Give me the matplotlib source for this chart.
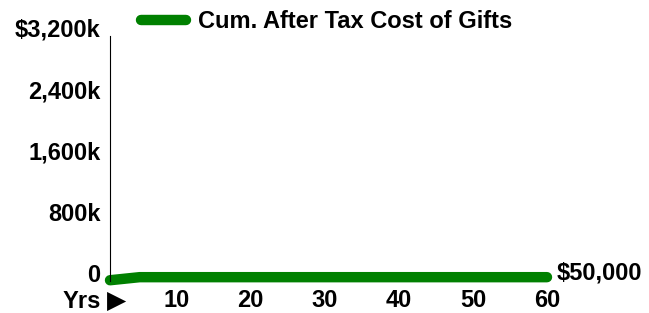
import matplotlib.pyplot as plt
import matplotlib.transforms as mtrans
from matplotlib.ticker import FuncFormatter

years = list(range(1, 61))
cum_cost = [10000, 20000, 30000, 40000, 50000] + [50000] * 55
x_ticks = [10, 20, 30, 40, 50, 60]
y_ticks = [0, 800000, 1600000, 2400000, 3200000]
series_name = "Cum. After Tax Cost of Gifts"
end_label = "$50,000"

plt.rcParams['font.family'] = ['Liberation Sans', 'DejaVu Sans']
plt.rcParams['font.weight'] = 'bold'
FS = 17

fig = plt.figure(figsize=(6.49, 3.13), dpi=100)
ax = fig.add_axes([110 / 649, 32 / 313, (547 - 110) / 649, (281 - 36) / 313])

ax.plot(years, cum_cost, color="#008000", linewidth=7.5, solid_capstyle="round",
        label=series_name, clip_on=False)
ax.set_xlim(1, 60)
ax.set_ylim(0, 3200000)
ax.set_xticks(x_ticks)
ax.set_yticks(y_ticks)


def yfmt(v, pos):
    if v == 0:
        return "0"
    s = "{:,.0f}k".format(v / 1000)
    return "$" + s if v == y_ticks[-1] else s


ax.yaxis.set_major_formatter(FuncFormatter(yfmt))
ax.tick_params(axis="both", length=0, labelsize=FS)
ax.tick_params(axis="y", pad=7)
ax.tick_params(axis="x", pad=6)
for lbl in ax.get_yticklabels() + ax.get_xticklabels():
    lbl.set_fontweight("bold")

# y tick labels sit a little above their gridline position
off = mtrans.ScaledTranslation(0, 8 / 100, fig.dpi_scale_trans)
for lbl in ax.get_yticklabels():
    lbl.set_transform(lbl.get_transform() + off)

for side in ["top", "right", "bottom"]:
    ax.spines[side].set_visible(False)
ax.spines["left"].set_linewidth(0.8)

fig.text(101 / 649, 1 - 301 / 313, "Yrs", ha="right", va="center",
         fontsize=FS, fontweight="bold")
fig.text(107 / 649, 1 - 301 / 313, "\u25B6", ha="left", va="center",
         fontsize=18, family=["DejaVu Sans"])

ax.annotate(end_label, xy=(60, cum_cost[-1]), xytext=(7, 3),
            textcoords="offset points", ha="left", va="center",
            fontsize=FS, fontweight="bold", annotation_clip=False)

leg = ax.legend(loc="center left", bbox_to_anchor=(141 / 649, 1 - 22 / 313),
                bbox_transform=fig.transFigure, frameon=False, fontsize=FS,
                handlelength=1.9, handletextpad=0.5, borderaxespad=0, borderpad=0)
for t in leg.get_texts():
    t.set_fontweight("bold")

fig.savefig("out.png", dpi=100)
